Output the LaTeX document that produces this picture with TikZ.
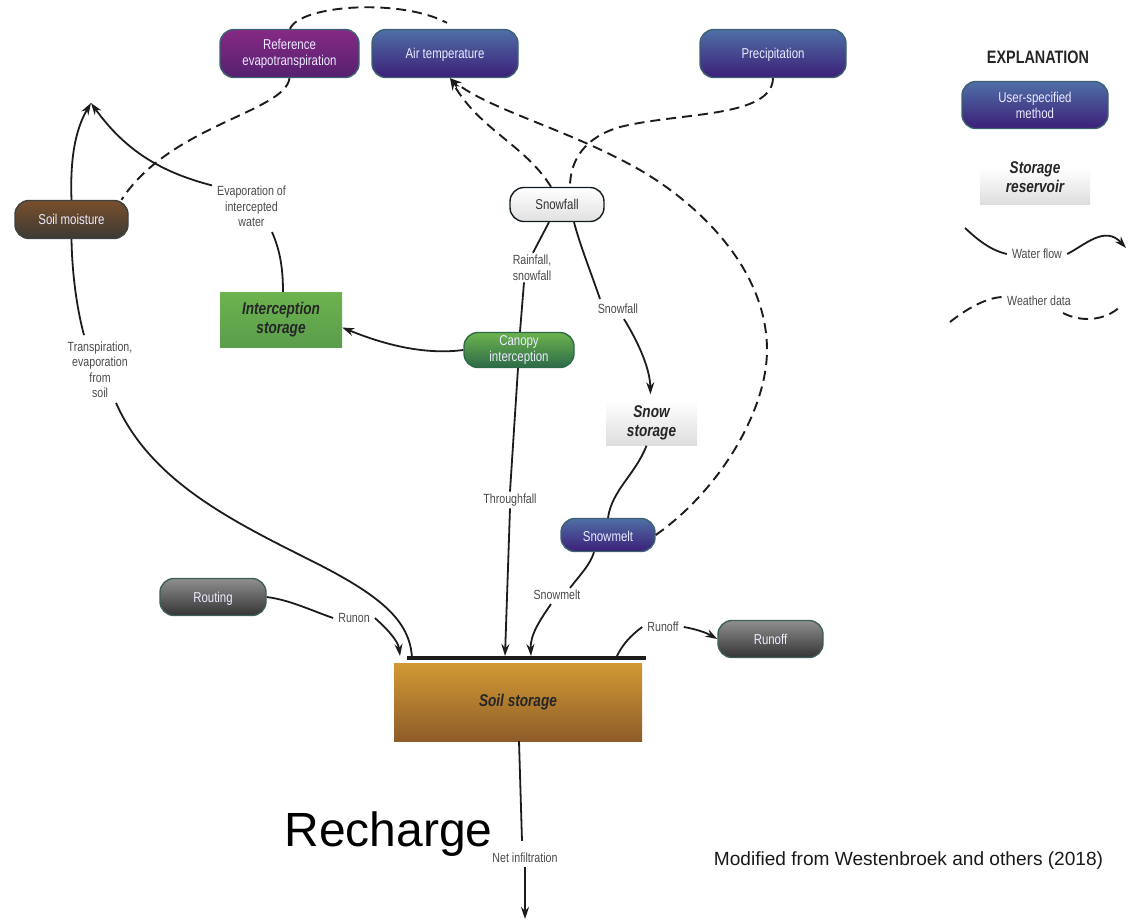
\documentclass[tikz,border=0pt]{standalone}
\usepackage{fontspec}
\setmainfont[FakeStretch=0.8]{Liberation Sans}
\newfontfamily\plainsans{Liberation Sans}
\usetikzlibrary{arrows.meta}
\definecolor{lbl}{HTML}{4A4A4A}
\definecolor{edge}{HTML}{3C6272}
\definecolor{flowc}{HTML}{1C1C1C}
\definecolor{HeadBlue}{HTML}{4F6FA6}
\definecolor{TailBlue}{HTML}{3C1F78}
\definecolor{HeadPurple}{HTML}{862A84}
\definecolor{TailPurple}{HTML}{55206F}
\definecolor{HeadGray}{HTML}{8F8F8F}
\definecolor{TailGray}{HTML}{343434}
\definecolor{HeadBrown}{HTML}{7A4F2C}
\definecolor{TailBrown}{HTML}{3C3A34}
\definecolor{HeadGreen}{HTML}{6DB34E}
\definecolor{TailGreen}{HTML}{2C6A48}
\definecolor{SoilTop}{HTML}{D29A33}
\definecolor{SoilBot}{HTML}{8E5C2A}
\definecolor{GrayEdge}{HTML}{3E5E5A}
\newcommand{\lowertext}[1]{\rule{0pt}{13pt}#1}
\tikzset{
  x=1pt,y=-1pt,
  meth/.style={draw=edge,line width=1.4pt,rounded corners=14pt,inner sep=0pt,align=center,text=white!92!blue,font=\fontsize{14.3}{16}\selectfont,minimum width=#1},
  bluem/.style={meth=#1,top color=HeadBlue,bottom color=TailBlue},
  purplem/.style={meth=#1,top color=HeadPurple,bottom color=TailPurple},
  graym/.style={meth=#1,top color=HeadGray,bottom color=TailGray,draw=GrayEdge},
  brownm/.style={meth=#1,top color=HeadBrown,bottom color=TailBrown,draw=TailBrown!80!edge},
  greenm/.style={meth=#1,top color=HeadGreen,bottom color=TailGreen,draw=TailGreen},
  whitem/.style={meth=#1,top color=white,bottom color=black!12,draw=black!70!edge,text=black!80},
  store/.style={inner sep=0pt,align=center,font=\fontsize{17}{19}\selectfont\bfseries\itshape,text=black!85},
  lab/.style={inner xsep=5pt,inner ysep=2pt,align=center,text=lbl,font=\fontsize{13.3}{15.5}\selectfont},
  flow/.style={draw=flowc,line width=1.8pt},
  flowa/.style={flow,-{Stealth[length=12pt,width=8pt]}},
  wx/.style={draw=flowc,line width=1.9pt,dash pattern=on 10pt off 6pt},
  wxa/.style={wx,-{Stealth[length=12pt,width=8pt]}},
}
\begin{document}
\begin{tikzpicture}
\useasboundingbox (0,0) rectangle (1128,922);
% methods
\node[purplem=139pt,minimum height=48pt] (ref) at (289.5,53.5) {Reference\\evapotranspiration};
\node[bluem=146pt,minimum height=48pt] (air) at (445,53.5) {\lowertext{Air temperature}};
\node[bluem=146pt,minimum height=48pt] (prec) at (773,53.5) {\lowertext{Precipitation}};
\node[bluem=146pt,minimum height=47pt] (user) at (1035,105) {User-specified\\method};
\node[brownm=113pt,minimum height=38pt] (soilm) at (71.5,219.5) {Soil moisture};
\node[whitem=94pt,minimum height=34pt] (snowf) at (557,204.5) {Snowfall};
\node[greenm=110pt,minimum height=35pt] (canopy) at (519,350) {Canopy\\interception};
\node[bluem=94pt,minimum height=33pt] (melt) at (608,535) {\lowertext{Snowmelt}};
\node[graym=106pt,minimum height=37pt] (rout) at (213,597) {\lowertext{Routing}};
\node[graym=105pt,minimum height=37pt] (roff) at (770.5,639) {Runoff};
% storages
\node[store,top color=HeadGreen,bottom color=HeadGreen!70!TailGreen,minimum width=122pt,minimum height=55pt] (inter) at (281,319.5) {Interception\\storage};
\node[store,top color=white,bottom color=black!13,minimum width=91pt,minimum height=45pt] (snows) at (651.5,423) {Snow\\storage};
\node[store,top color=SoilTop,bottom color=SoilBot,minimum width=248pt,minimum height=78pt] (soil) at (518,702) {Soil storage};
\node[top color=white,bottom color=black!13,inner sep=0pt,minimum width=110pt,minimum height=36pt] (legs) at (1035,186) {};
\node[store] (legst) at (1035,177) {Storage\\reservoir};
\coordinate (barL) at (407,658);
\coordinate (barR) at (646,658);
\draw[line width=4pt,flowc] (barL) -- (barR);
% labels
\node[font=\fontsize{18}{19}\selectfont\bfseries,text=black!85,inner sep=0pt] (expl) at (1038,57) {EXPLANATION};
\node[lab] (lev) at (251.5,206.5) {Evaporation of\\intercepted\\water};
\node[lab] (ltr) at (100,369.5) {Transpiration,\\evaporation\\from\\soil};
\node[lab] (lrain) at (532,267.5) {Rainfall,\\snowfall};
\node[lab] (lsnow) at (618,309) {Snowfall};
\node[lab] (lthru) at (510,500) {Throughfall};
\node[lab] (lmelt) at (557,595) {Snowmelt};
\node[lab] (lrunon) at (354,618) {Runon};
\node[lab] (lroff) at (663,627) {Runoff};
\node[lab] (lnet) at (525,858) {Net infiltration};
\node[lab] (lwf) at (1037,254) {Water flow};
\node[lab] (lwd) at (1039,301) {Weather data};
\node[inner sep=0pt,font=\plainsans\fontsize{48}{56}\selectfont,text=black] (rech) at (388.5,834) {Recharge};
\node[inner sep=0pt,font=\plainsans\fontsize{19.1}{22}\selectfont,text=black!90] (src) at (908.5,861) {Modified from Westenbroek and others (2018)};
% free ends
\coordinate (atm) at (91,103);
\coordinate (netend) at (525,919);
\coordinate (wf1) at (965,228);
\coordinate (wf2) at (1126,248);
\coordinate (wd1) at (950,322);
\coordinate (wd2) at (1122,305);
% weather data
\draw[wx] ([xshift=0.5pt]ref.north) .. controls (300,5) and (400,-2) .. ([xshift=2pt,yshift=6pt]air.north);
\draw[wx] (ref.south) .. controls (285,112) and (170,125) .. ([xshift=50pt]soilm.north);
\draw[wxa] ([xshift=-6pt]snowf.north) .. controls (525,145) and (480,130) .. ([xshift=5pt]air.south);
\draw[wxa] (melt.east) .. controls (720,490) and (767,410) .. (767,350) .. controls (767,270) and (700,205) .. (640,170) .. controls (570,130) and (490,110) .. ([xshift=5pt]air.south);
\draw[wx] (prec.south) .. controls (772,118) and (680,112) .. (620,127) .. controls (585,137) and (570,160) .. ([xshift=13pt]snowf.north);
% water flow
\draw[flowa] (soilm.north) .. controls (70,160) and (75,130) .. (atm);
\draw[flowa] ([xshift=-39.5pt,yshift=-1.5pt]lev.north) .. controls (160,172) and (125,150) .. (atm);
\draw[flow] ([xshift=2pt]inter.north) .. controls (283,265) and (279,248) .. ([xshift=20.5pt,yshift=-3pt]lev.south);
\draw[flow] (soilm.south) .. controls (72,270) and (76,305) .. ([xshift=-16pt,yshift=4pt]ltr.north);
\draw[flow] ([xshift=16pt,yshift=-3pt]ltr.south) .. controls (150,480) and (230,520) .. (310,560) .. controls (380,595) and (410,620) .. ([xshift=5pt]barL);
\draw[flow] ([xshift=-8pt]snowf.south) -- ([xshift=1pt]lrain.north);
\draw[flow] ([xshift=-8pt]lrain.south) -- ([xshift=1pt]canopy.north);
\draw[flowa] (canopy.west) .. controls (425,355) and (385,345) .. ([yshift=-8pt]inter.east);
\draw[flow] ([xshift=-1pt]canopy.south) -- (lthru.north);
\draw[flowa] (lthru.south) -- ([xshift=98pt,yshift=2pt]barL);
\draw[flow] ([xshift=17pt]snowf.south) .. controls (580,245) and (590,270) .. ([xshift=-18pt,yshift=3pt]lsnow.north);
\draw[flowa] ([xshift=6pt,yshift=-3pt]lsnow.south) .. controls (640,345) and (650,370) .. ([yshift=6pt,xshift=-1pt]snows.north);
\draw[flow] ([xshift=-5pt]snows.south) .. controls (635,475) and (612,490) .. (melt.north);
\draw[flow] ([xshift=-14pt]melt.south) .. controls (590,565) and (580,575) .. ([xshift=13pt]lmelt.north);
\draw[flowa] ([xshift=-6pt,yshift=-2pt]lmelt.south) .. controls (540,620) and (530,635) .. ([xshift=124pt,yshift=2pt]barL);
\draw[flow] (rout.east) .. controls (290,600) and (310,610) .. (lrunon.west);
\draw[flowa] (lrunon.east) .. controls (385,627) and (398,640) .. ([xshift=-7pt,yshift=2pt]barL);
\draw[flow] ([xshift=-30pt]barR) .. controls (622,645) and (630,636) .. (lroff.west);
\draw[flowa] (lroff.east) .. controls (695,629) and (705,632) .. (roff.west);
\draw[flow] ([xshift=1pt]soil.south) -- ([xshift=-3pt,yshift=10pt]lnet.north);
\draw[flowa] ([yshift=-2pt]lnet.south) -- (netend);
\draw[flow] (wf1) .. controls (978,240) and (990,250) .. (lwf.west);
\draw[flowa] (lwf.east) .. controls (1085,245) and (1105,225) .. (wf2);
\draw[wx] (wd1) .. controls (965,310) and (985,298) .. ([yshift=4pt]lwd.west);
\draw[wx] ([yshift=-12pt,xshift=-13pt]lwd.east) .. controls (1080,322) and (1105,322) .. (wd2);
\end{tikzpicture}
\end{document}
